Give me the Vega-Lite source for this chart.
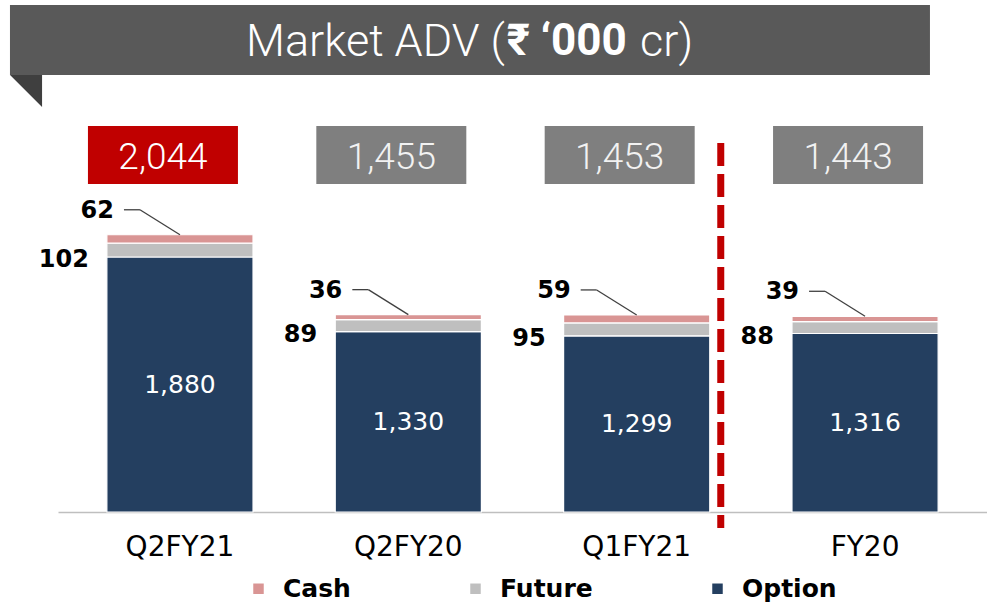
{
  "$schema": "https://vega.github.io/schema/vega-lite/v6.json",
  "width": 929,
  "height": 512,
  "autosize": {"type": "none"},
  "padding": {"left": 58, "top": 0, "right": 0, "bottom": 93},
  "background": "white",
  "config": {"view": {"stroke": null}, "font": "DejaVu Sans"},
  "datasets": {
    "adv": [
      {"period": "Q2FY21", "series": "Option", "value": 1880},
      {"period": "Q2FY21", "series": "Future", "value": 102},
      {"period": "Q2FY21", "series": "Cash", "value": 62},
      {"period": "Q2FY20", "series": "Option", "value": 1330},
      {"period": "Q2FY20", "series": "Future", "value": 89},
      {"period": "Q2FY20", "series": "Cash", "value": 36},
      {"period": "Q1FY21", "series": "Option", "value": 1299},
      {"period": "Q1FY21", "series": "Future", "value": 95},
      {"period": "Q1FY21", "series": "Cash", "value": 59},
      {"period": "FY20", "series": "Option", "value": 1316},
      {"period": "FY20", "series": "Future", "value": 88},
      {"period": "FY20", "series": "Cash", "value": 39}
    ]
  },
  "data": {"name": "adv"},
  "layer": [
    {
      "layer": [
        {
          "mark": {"type": "bar", "stroke": "white", "strokeWidth": 1.2},
          "encoding": {
            "x": {
              "field": "period", "type": "nominal",
              "scale": {"domain": ["Q2FY21", "Q2FY20", "Q1FY21", "FY20"], "paddingInner": 0.36, "paddingOuter": 0.214},
              "axis": {"title": null, "domainColor": "#BFBFBF", "domainWidth": 1.5, "ticks": false, "labelFontSize": 28, "labelColor": "#000000", "labelFont": "DejaVu Sans", "labelPadding": 21, "labelAngle": 0, "grid": false}
            },
            "y": {"field": "value", "type": "quantitative", "stack": "zero", "scale": {"domain": [0, 3775], "nice": false}, "axis": null},
            "color": {
              "field": "series", "type": "nominal",
              "scale": {"domain": ["Cash", "Future", "Option"], "range": ["#D99594", "#BFBFBF", "#243F60"]},
              "legend": {"title": null, "orient": "none", "legendX": 188, "legendY": 576, "direction": "horizontal", "columns": 3, "symbolType": "square", "symbolSize": 110, "symbolStrokeWidth": 0, "labelFontSize": 25, "labelFontWeight": "bold", "labelFont": "DejaVu Sans", "labelColor": "#000000", "columnPadding": 112, "labelOffset": 12, "labelLimit": 300}
            },
            "order": {"field": "series", "sort": "descending"}
          }
        },
        {
          "transform": [{"filter": "datum.series === 'Option'"}],
          "mark": {"type": "text", "color": "white", "fontSize": 25, "font": "DejaVu Sans", "baseline": "middle"},
          "encoding": {
            "x": {"field": "period", "type": "nominal"},
            "y": {"field": "value", "type": "quantitative", "stack": "zero", "bandPosition": 0.5},
            "text": {"field": "value", "type": "quantitative", "format": ","}
          }
        },
        {
          "transform": [{"pivot": "series", "value": "value", "groupby": ["period"]}],
          "mark": {"type": "text", "align": "right", "baseline": "middle", "dx": -18, "dy": 3, "fontSize": 24, "fontWeight": "bold", "color": "#000000", "font": "DejaVu Sans"},
          "encoding": {
            "x": {"field": "period", "type": "nominal", "bandPosition": 0},
            "y": {"field": "Option", "type": "quantitative"},
            "text": {"field": "Future", "type": "quantitative"}
          }
        },
        {
          "transform": [
            {"joinaggregate": [{"op": "sum", "field": "value", "as": "total"}], "groupby": ["period"]},
            {"filter": "datum.series === 'Cash'"}
          ],
          "mark": {"type": "text", "align": "right", "baseline": "middle", "dx": -66, "dy": -24, "fontSize": 24, "fontWeight": "bold", "color": "#000000", "font": "DejaVu Sans"},
          "encoding": {
            "x": {"field": "period", "type": "nominal"},
            "y": {"field": "total", "type": "quantitative"},
            "text": {"field": "value", "type": "quantitative"}
          }
        },
        {
          "transform": [
            {"joinaggregate": [{"op": "sum", "field": "value", "as": "total"}], "groupby": ["period"]},
            {"filter": "datum.series === 'Cash'"}
          ],
          "mark": {"type": "rule", "color": "#404040", "strokeWidth": 1.3, "x2Offset": -40, "y2Offset": -25},
          "encoding": {
            "x": {"field": "period", "type": "nominal", "bandPosition": 0.5},
            "x2": {"field": "period", "bandPosition": 0.5},
            "y": {"field": "total", "type": "quantitative"},
            "y2": {"field": "total"}
          }
        },
        {
          "transform": [
            {"joinaggregate": [{"op": "sum", "field": "value", "as": "total"}], "groupby": ["period"]},
            {"filter": "datum.series === 'Cash'"}
          ],
          "mark": {"type": "rule", "color": "#404040", "strokeWidth": 1.3, "xOffset": -40, "x2Offset": -56, "yOffset": -25, "y2Offset": -25},
          "encoding": {
            "x": {"field": "period", "type": "nominal", "bandPosition": 0.5},
            "x2": {"field": "period", "bandPosition": 0.5},
            "y": {"field": "total", "type": "quantitative"},
            "y2": {"field": "total"}
          }
        },
        {
          "transform": [{"aggregate": [{"op": "sum", "field": "value", "as": "total"}], "groupby": ["period"]}],
          "mark": {"type": "bar", "width": 150, "xOffset": -17},
          "encoding": {
            "x": {"field": "period", "type": "nominal"},
            "y": {"datum": 2418, "type": "quantitative"},
            "y2": {"datum": 2846},
            "color": {"condition": {"test": "datum.period === 'Q2FY21'", "value": "#C00000"}, "value": "#7F7F7F"}
          }
        },
        {
          "transform": [{"aggregate": [{"op": "sum", "field": "value", "as": "total"}], "groupby": ["period"]}],
          "mark": {"type": "text", "xOffset": -17, "fontSize": 37, "font": "Roboto", "fontWeight": 300, "baseline": "middle"},
          "encoding": {
            "x": {"field": "period", "type": "nominal"},
            "y": {"datum": 2612, "type": "quantitative"},
            "text": {"field": "total", "type": "quantitative", "format": ","},
            "color": {"condition": {"test": "datum.period === 'Q2FY21'", "value": "#FFFFFF"}, "value": "#F2F2F2"}
          }
        },
        {
          "data": {"values": [{}]},
          "mark": {"type": "rule", "color": "#C00000", "strokeWidth": 7, "strokeDash": [23, 8], "xOffset": 11},
          "encoding": {
            "x": {"datum": "Q1FY21", "bandPosition": 1},
            "y": {"datum": 2720, "type": "quantitative"},
            "y2": {"datum": -118}
          }
        }
      ]
    },
    {
      "data": {"values": [{}]},
      "layer": [
        {
          "mark": {"type": "rect", "color": "#595959"},
          "encoding": {
            "x": {"datum": -5.17, "type": "quantitative", "scale": {"domain": [0, 100], "nice": false, "zero": false}, "axis": null},
            "x2": {"datum": 93.86},
            "y": {"datum": 3222, "type": "quantitative"},
            "y2": {"datum": 3738}
          }
        },
        {
          "mark": {"type": "point", "shape": "M-1,-1L1,-1L1,1Z", "size": 1024, "filled": true, "color": "#3F3F3F", "opacity": 1, "strokeWidth": 0},
          "encoding": {
            "x": {"datum": -3.44, "type": "quantitative"},
            "y": {"datum": 3104, "type": "quantitative"}
          }
        },
        {
          "mark": {"type": "text", "align": "right", "baseline": "middle", "fontSize": 45, "font": "Roboto", "fontWeight": 300, "color": "white", "text": "Market ADV ("},
          "encoding": {
            "x": {"datum": 48.1, "type": "quantitative"},
            "y": {"datum": 3465, "type": "quantitative"}
          }
        },
        {
          "mark": {"type": "text", "align": "left", "baseline": "middle", "fontSize": 44, "font": "Roboto", "fontWeight": "bold", "color": "white", "text": "₹ ‘000"},
          "encoding": {
            "x": {"datum": 48.3, "type": "quantitative"},
            "y": {"datum": 3465, "type": "quantitative"}
          }
        },
        {
          "mark": {"type": "text", "align": "left", "baseline": "middle", "fontSize": 45, "font": "Roboto", "fontWeight": 300, "color": "white", "text": "cr)"},
          "encoding": {
            "x": {"datum": 62.65, "type": "quantitative"},
            "y": {"datum": 3465, "type": "quantitative"}
          }
        }
      ]
    }
  ],
  "resolve": {"scale": {"x": "independent"}}
}
